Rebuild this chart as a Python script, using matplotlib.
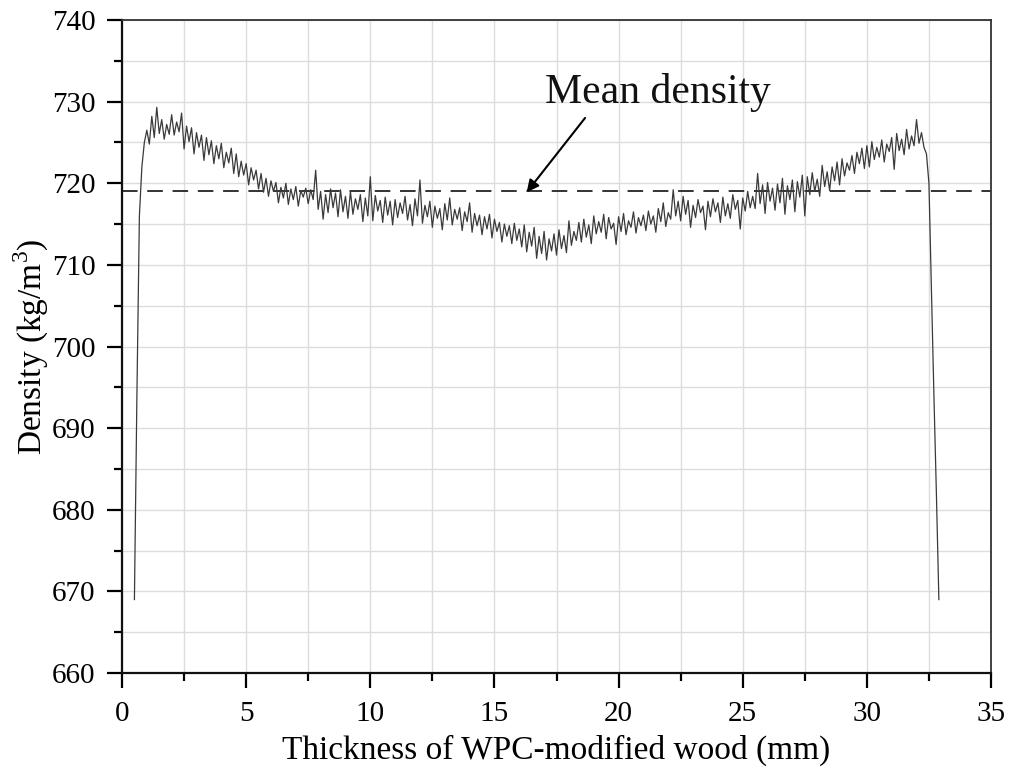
import numpy as np
import matplotlib
matplotlib.use("Agg")
import matplotlib.pyplot as plt
from matplotlib.ticker import MultipleLocator

# ---- data ----
x_start = 0.5      # mm
x_step = 0.1       # mm
density = [
    669.0, 694.0, 716.0, 722.0, 725.0, 726.5, 724.8, 728.2, 725.6, 729.3,
    726.1, 727.8, 725.4, 727.2, 726.0, 728.4, 725.9, 727.5, 726.3, 728.6,
    724.2, 727.0, 725.1, 726.8, 723.6, 726.2, 724.4, 725.9, 722.8, 725.6,
    723.5, 725.2, 722.4, 724.6, 723.0, 724.9, 721.9, 723.8, 722.5, 724.3,
    721.2, 723.6, 720.8, 722.7, 721.0, 722.4, 719.8, 721.9, 720.4, 721.6,
    719.3, 721.2, 718.9, 720.6, 718.4, 720.3, 719.0, 720.1, 717.6, 719.5,
    718.2, 720.0, 717.4, 719.3, 718.0, 719.6, 717.2, 719.1, 718.3, 719.4,
    717.5, 719.2, 718.0, 721.6, 716.8, 719.0, 715.6, 718.6, 716.4, 719.3,
    717.0, 718.8, 715.9, 719.2, 716.5, 718.4, 715.7, 719.0, 716.2, 718.1,
    716.8, 718.6, 715.3, 718.2, 716.0, 720.8, 715.4, 718.5, 716.6, 717.9,
    715.2, 718.3, 716.1, 717.8, 714.9, 718.0, 715.8, 717.6, 716.3, 718.4,
    715.5, 717.4, 714.8, 718.1, 716.0, 720.4, 715.1, 717.3, 715.9, 717.8,
    714.6, 717.2, 715.7, 716.9, 714.3, 717.5, 715.5, 718.2, 714.9, 716.8,
    715.6, 717.0, 714.2, 716.5, 715.3, 717.6, 714.0, 716.3, 714.8, 716.1,
    713.7, 715.9, 714.4, 716.2, 713.3, 715.6, 714.1, 715.2, 712.8, 715.0,
    713.5, 714.8, 712.6, 715.1, 713.0, 714.4, 712.2, 714.9, 711.6, 714.0,
    712.3, 714.6, 710.8, 713.5, 711.4, 714.1, 710.6, 713.2, 711.7, 713.8,
    711.2, 714.3, 712.0, 713.6, 711.5, 715.4, 712.4, 714.1, 713.0, 715.2,
    712.8, 715.6, 713.4, 714.9, 712.6, 716.0, 713.8, 715.3, 714.0, 716.2,
    713.2, 715.8, 714.4, 715.1, 712.5, 715.9, 714.1, 716.3, 713.7, 715.4,
    714.6, 716.5, 713.9, 715.8, 714.8, 716.1, 714.2, 716.6, 715.0, 716.0,
    714.0, 716.9, 715.3, 717.6, 714.7, 716.4, 715.6, 719.2, 716.0, 717.8,
    715.4, 718.4, 716.2, 717.9, 714.6, 717.3, 715.8, 718.0, 716.4, 717.2,
    714.3, 717.8, 715.9, 718.1, 716.5, 717.6, 715.2, 718.3, 716.0, 717.5,
    715.7, 718.6, 716.8, 717.9, 714.4, 718.2, 716.6, 719.0, 717.0, 718.4,
    716.9, 721.2, 717.5, 719.8, 716.3, 720.1, 717.8, 719.4, 716.7, 719.9,
    717.6, 720.6, 716.2, 719.7, 718.0, 720.4, 716.5, 720.2, 718.3, 721.0,
    716.0, 720.8, 718.6, 721.3, 719.0, 720.5, 718.4, 722.2, 719.6, 721.4,
    719.1, 722.0, 720.3, 722.6, 719.8, 723.0, 720.9, 722.5, 721.6, 723.4,
    721.2, 723.8, 722.4, 724.3, 721.8, 724.6, 722.0, 725.1, 722.9, 724.4,
    723.2, 725.3, 722.6, 724.8, 723.9, 725.6, 721.7, 726.1, 724.0, 725.4,
    723.5, 726.6, 724.2, 725.8, 724.6, 727.8, 724.9, 726.2, 724.4, 723.6,
    720.0, 707.0, 694.0, 682.0, 669.0,
]
mean_density = 719.0
annotation_text = "Mean density"
annotation_xy = (16.3, 718.9)
annotation_text_xy = (21.6, 729.8)
arrow_tail = (18.65, 728.0)

x_label = "Thickness of WPC-modified wood (mm)"
y_label = "Density (kg/m$^3$)"

thickness = x_start + x_step * np.arange(len(density))

# ---- plot ----
plt.rcParams['font.family'] = ['Liberation Serif', 'DejaVu Serif']
plt.rcParams['mathtext.fontset'] = 'custom'
plt.rcParams['mathtext.rm'] = 'Liberation Serif'

fig = plt.figure(figsize=(10.1, 7.72), dpi=100)
ax = fig.add_axes([0.1208, 0.1282, 0.8604, 0.8459])

ax.set_xlim(0, 35)
ax.set_ylim(660, 740)
ax.xaxis.set_major_locator(MultipleLocator(5))
ax.xaxis.set_minor_locator(MultipleLocator(2.5))
ax.yaxis.set_major_locator(MultipleLocator(10))
ax.yaxis.set_minor_locator(MultipleLocator(5))

ax.grid(True, which='both', color='#dcdcdc', linewidth=1.0, zorder=0)
ax.set_axisbelow(True)

ax.plot(thickness, density, color='#3a3a3a', linewidth=0.9, zorder=3)
ax.axhline(mean_density, color='#333333', linewidth=1.4,
           dashes=(8, 5), zorder=2)

ax.annotate("", xy=annotation_xy, xytext=arrow_tail,
            arrowprops=dict(arrowstyle='-|>', color='black', lw=1.5,
                            mutation_scale=18, shrinkA=0, shrinkB=0),
            zorder=4)
ax.text(annotation_text_xy[0], annotation_text_xy[1], annotation_text,
        fontsize=30, ha='center', va='baseline', color='#111111')

ax.tick_params(which='major', direction='out', length=11, width=1.6,
               labelsize=21, top=False, right=False)
ax.tick_params(axis='x', which='major', pad=9)
ax.tick_params(axis='y', which='major', pad=8)
ax.tick_params(which='minor', direction='out', length=5.5, width=1.6,
               top=False, right=False)

for side in ['left', 'bottom']:
    ax.spines[side].set_linewidth(1.6)
    ax.spines[side].set_color('#111111')
for side in ['top', 'right']:
    ax.spines[side].set_linewidth(1.3)
    ax.spines[side].set_color('#333333')

ax.set_xlabel(x_label, fontsize=24, labelpad=6)
ax.set_ylabel(y_label, fontsize=24, labelpad=1)

fig.savefig("out.png", dpi=100, facecolor='white')
